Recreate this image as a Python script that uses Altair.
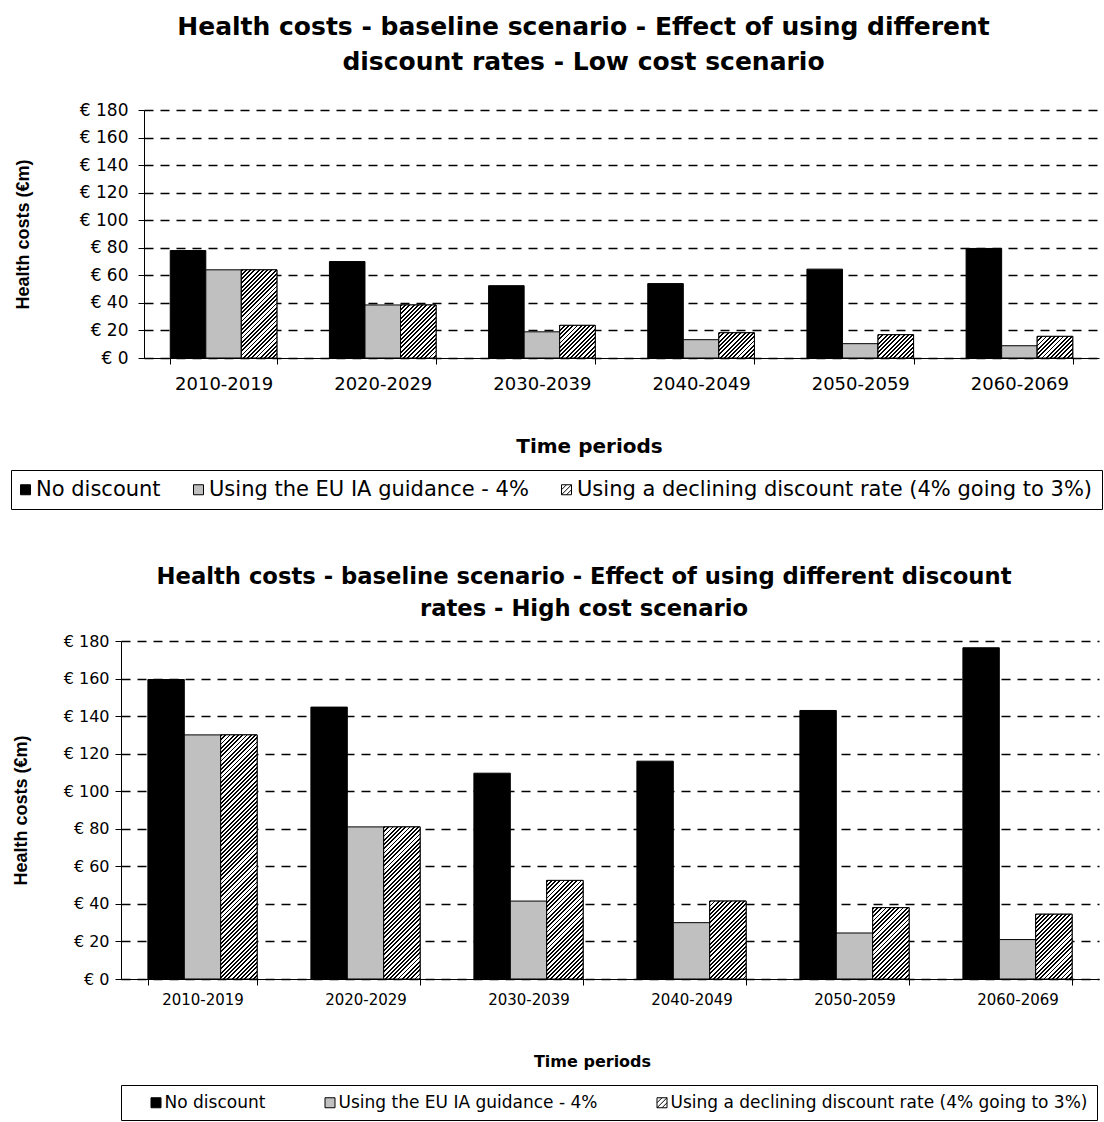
import math
import altair as alt

# ---- data -------------------------------------------------------------
periods = ["2010-2019", "2020-2029", "2030-2039", "2040-2049", "2050-2059", "2060-2069"]
series_names = [
    "No discount",
    "Using the EU IA guidance - 4%",
    "Using a declining discount rate (4% going to 3%)",
]

low_no_discount = [78, 70, 52.5, 54, 64.5, 79.5]
low_eu_guidance = [64, 38.5, 19, 13.3, 10.4, 8.9]
low_declining = [64, 38.5, 23.7, 18.3, 16.9, 15.7]

high_no_discount = [159.5, 144.8, 109.6, 116, 143, 176.4]
high_eu_guidance = [130, 81, 41.5, 30, 24.5, 21]
high_declining = [130, 81, 52.5, 41.5, 38, 34.5]

y_ticks = [0, 20, 40, 60, 80, 100, 120, 140, 160, 180]
y_max = 180

# ---- styling ----------------------------------------------------------
SANS = "DejaVu Sans"
ARIAL = "Liberation Sans"
PAD = 0.33
bar_colors = ["#000000", "#c0c0c0", "#ffffff"]
outline_colors = ["#000000", "#000000", "#000000"]
square = "M-1,-1H1V1H-1Z"
hatched_square = square + " M-1,0L0,-1 M-1,1L1,-1 M0,1L1,0"
key_shapes = [square, square, hatched_square]


def hatch_fill(w, h, period=3.0, line=0.45):
    """Linear gradient (bounding-box units) that draws 45 degree stripes."""
    h = max(h, 1.0)
    k = (w + h) / (w * w + h * h)
    n = (w + h) / (math.sqrt(2) * period)
    stops = []
    j = 0
    while j < n:
        a = j / n
        b = min((j + line) / n, 1.0)
        c = min((j + 1) / n, 1.0)
        stops += [
            {"offset": round(a, 5), "color": "#000000"},
            {"offset": round(b, 5), "color": "#000000"},
            {"offset": round(b, 5), "color": "#ffffff"},
            {"offset": round(c, 5), "color": "#ffffff"},
        ]
        j += 1
    return {"gradient": "linear", "x1": 0, "y1": 0, "x2": k * w, "y2": k * h, "stops": stops}


def panel(no_disc, eu, declining, s):
    rows = []
    for i, p in enumerate(periods):
        for name, vals in zip(series_names, (no_disc, eu, declining)):
            rows.append({"period": p, "series": name, "value": vals[i]})

    bar_w = s["width"] / len(periods) * (1 - PAD) / len(series_names)
    hatch_rows = [
        {
            "period": p,
            "series": series_names[2],
            "value": v,
            "pattern": hatch_fill(bar_w, v / y_max * s["height"]),
        }
        for p, v in zip(periods, declining)
    ]

    x = alt.X(
        "period:N",
        sort=periods,
        scale=alt.Scale(domain=periods, paddingInner=PAD, paddingOuter=PAD / 2),
        axis=alt.Axis(
            title="Time periods",
            labelAngle=0,
            labelFont=SANS,
            labelFontSize=s["xlab"],
            labelColor="black",
            labelPadding=s["xpad"],
            tickSize=6,
            tickColor="black",
            tickBand="extent",
            domainColor="black",
            grid=False,
            titleFont=SANS,
            titleFontSize=s["xtitle"],
            titleFontWeight="bold",
            titleColor="black",
            titleX=s["xtitle_x"],
            titleY=s["xtitle_y"],
            titleBaseline="middle",
        ),
    )
    y = alt.Y(
        "value:Q",
        scale=alt.Scale(domain=[0, y_max], nice=False),
        axis=alt.Axis(
            title="Health costs (€m)",
            values=y_ticks,
            labelExpr="'€ ' + datum.value",
            labelFont=SANS,
            labelFontSize=s["ylab"],
            labelColor="black",
            labelPadding=s["ypad"],
            tickSize=6,
            tickColor="black",
            domainColor="black",
            grid=True,
            gridColor="black",
            gridDash=[9, 7],
            gridWidth=1.3,
            titleFont=ARIAL,
            titleFontSize=18,
            titleFontWeight="bold",
            titleColor="black",
            titleAngle=270,
            titleX=s["ytitle_x"],
            titleY=s["height"] / 2,
            titleBaseline="middle",
            titleAlign="center",
        ),
    )
    xoff = alt.XOffset(
        "series:N",
        sort=series_names,
        scale=alt.Scale(domain=series_names, paddingInner=0, paddingOuter=0),
    )

    key = alt.Legend(
        title=None,
        orient="none",
        legendX=s["leg_x"],
        legendY=s["leg_y"],
        direction="horizontal",
        labelFont=SANS,
        labelFontSize=s["leg_font"],
        labelColor="black",
        labelLimit=0,
        labelOffset=s["lab_off"],
        symbolSize=100,
        symbolOffset=s["sym_off"],
        symbolStrokeWidth=1,
        symbolOpacity=1,
        columnPadding=s["col_pad"],
        padding=s["leg_pad"],
        strokeColor="black",
        fillColor="white",
    )

    # bar fills: same colours, domain listed back to front so that this
    # scale stays separate from the key's colour scale
    bar_fill = alt.Scale(domain=series_names[::-1], range=bar_colors[::-1])
    bars = alt.Chart(alt.Data(values=rows)).mark_bar(stroke="black", strokeWidth=1).encode(
        x=x,
        y=y,
        xOffset=xoff,
        fill=alt.Fill("series:N", scale=bar_fill, legend=None),
    )
    hatch = alt.Chart(alt.Data(values=hatch_rows)).mark_bar(stroke="black", strokeWidth=1).encode(
        x=x,
        y=y,
        xOffset=xoff,
        fill=alt.Fill("pattern:N", scale=None, legend=None),
    )
    # empty point layer that carries the key (colour, outline and symbol shape)
    legend_marks = (
        alt.Chart(alt.Data(values=rows))
        .transform_filter("false")
        .mark_point(filled=True, size=100, strokeWidth=1, opacity=1)
        .encode(
            color=alt.Color("series:N", scale=alt.Scale(domain=series_names, range=bar_colors), legend=key),
            stroke=alt.Stroke("series:N", scale=alt.Scale(domain=series_names, range=outline_colors), legend=key),
            shape=alt.Shape("series:N", scale=alt.Scale(domain=series_names, range=key_shapes), legend=key),
        )
    )
    return alt.layer(bars, hatch, legend_marks).properties(
        width=s["width"],
        height=s["height"],
        title=alt.TitleParams(
            text=s["title"],
            font=SANS,
            fontSize=s["title_size"],
            fontWeight="bold",
            color="black",
            lineHeight=s["title_lh"],
            anchor="middle",
            frame="group",
            dx=s["title_dx"],
            offset=s["title_off"],
        ),
    )


low = panel(
    low_no_discount, low_eu_guidance, low_declining,
    dict(
        width=955, height=248,
        title=["Health costs - baseline scenario - Effect of using different",
               "discount rates - Low cost scenario"],
        title_size=25, title_lh=35, title_dx=-38, title_off=26,
        xlab=18, xpad=11, xtitle=20, xtitle_x=445, xtitle_y=88,
        ylab=17, ypad=10, ytitle_x=-121,
        leg_x=-133, leg_y=360, leg_font=21, sym_off=-5, lab_off=0, col_pad=30, leg_pad=9,
    ),
)

high = panel(
    high_no_discount, high_eu_guidance, high_declining,
    dict(
        width=978, height=338,
        title=["Health costs - baseline scenario - Effect of using different discount",
               "rates - High cost scenario"],
        title_size=22.7, title_lh=32, title_dx=-26, title_off=12,
        xlab=15, xpad=7, xtitle=16, xtitle_x=471, xtitle_y=82,
        ylab=16, ypad=6, ytitle_x=-100,
        leg_x=0, leg_y=444, leg_font=17, sym_off=17.5, lab_off=0, col_pad=38, leg_pad=9,
    ),
)

spacer = (
    alt.Chart(alt.Data(values=[{"v": 0}]))
    .mark_rect(opacity=0)
    .encode(x=alt.value(0), x2=alt.value(1), y=alt.value(0), y2=alt.value(1))
    .properties(width=1, height=1)
)

top_row = (
    alt.hconcat(spacer, low, spacing=22, bounds="flush")
    .resolve_scale(color="independent", shape="independent", fill="independent", stroke="independent")
    .resolve_legend(color="independent", shape="independent", fill="independent", stroke="independent")
)

chart = (
    alt.vconcat(top_row, high, spacing=56)
    .resolve_scale(x="independent", y="independent", xOffset="independent",
                   color="independent", shape="independent", fill="independent", stroke="independent")
    .resolve_legend(color="independent", shape="independent", fill="independent", stroke="independent")
    .properties(padding={"left": 10, "top": 15, "right": 0, "bottom": 0}, background="white")
    .configure_view(stroke=None)
)

chart.save("out.html", embed_options={"renderer": "svg", "actions": False})
